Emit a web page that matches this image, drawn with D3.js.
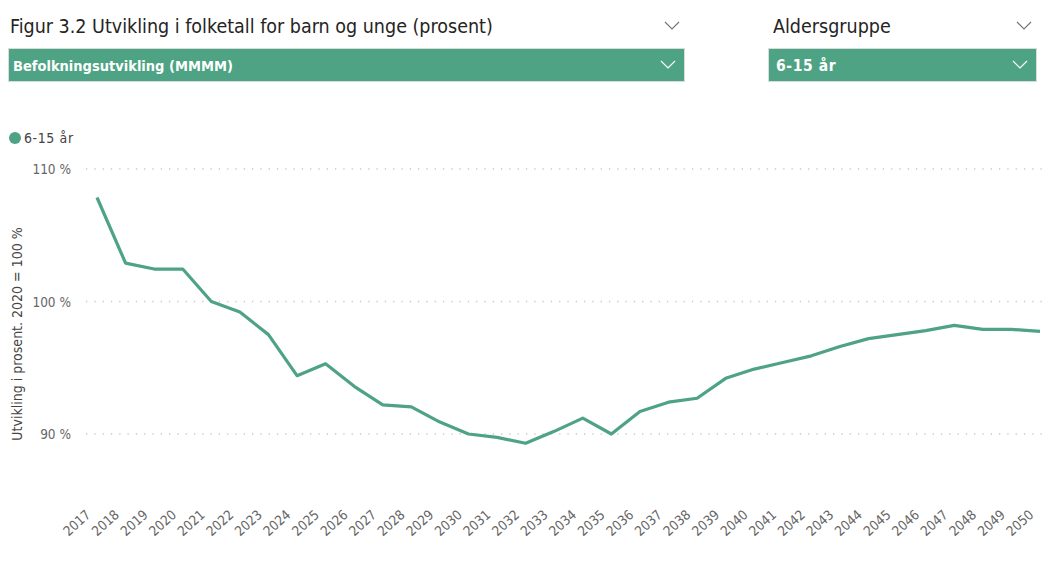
<!DOCTYPE html>
<html><head><meta charset="utf-8">
<script src="https://cdn.jsdelivr.net/npm/d3@7"></script>
<style>
body{margin:0;background:#fff;}
svg{display:block;font-family:"DejaVu Sans Condensed","DejaVu Sans",sans-serif;font-stretch:condensed;}
</style></head>
<body><svg id="c" width="1045" height="586"></svg>
<script>
const years = d3.range(2017, 2051).map(String);
const values = [107.85,102.9,102.45,102.45,100.0,99.2,97.5,94.4,95.3,93.6,92.2,92.05,90.9,90.0,89.75,89.3,90.2,91.2,90.0,91.7,92.4,92.7,94.2,94.9,95.4,95.9,96.6,97.2,97.5,97.8,98.2,97.9,97.9,97.75];
const yTicks = [90, 100, 110];
const seriesName = "6-15 år";
const titleText = "Figur 3.2 Utvikling i folketall for barn og unge (prosent)";
const slicer1 = "Befolkningsutvikling (MMMM)";
const slicer2Title = "Aldersgruppe";
const yTitle = "Utvikling i prosent. 2020 = 100 %";

const green = "#4da383";
const svg = d3.select("#c");

// header
svg.append("text").attr("x",10).attr("y",33).attr("font-size",19.5).attr("fill","#252423").text(titleText);
svg.append("text").attr("x",773).attr("y",33).attr("font-size",19.5).attr("fill","#252423").text(slicer2Title);
function chevron(cx, cy, col){
  svg.append("path").attr("d",`M${cx-7},${cy-4}L${cx},${cy+3}L${cx+7},${cy-4}`)
    .attr("fill","none").attr("stroke",col).attr("stroke-width",1.2);
}
chevron(672,26,"#777");
chevron(1024,26,"#777");
svg.append("rect").attr("x",8.5).attr("y",48.5).attr("width",676).attr("height",33).attr("fill",green).attr("stroke","#d8dcdc");
svg.append("rect").attr("x",768.5).attr("y",48.5).attr("width",268).attr("height",33).attr("fill",green).attr("stroke","#d8dcdc");
svg.append("text").attr("x",13).attr("y",71).attr("font-size",14.5).attr("font-weight","bold").attr("fill","#fff").text(slicer1);
svg.append("text").attr("x",776).attr("y",71).attr("font-size",15.5).attr("font-weight","bold").attr("letter-spacing",0.6).attr("fill","#fff").text("6-15 år");
chevron(668,65,"#fff");
chevron(1020,65,"#fff");

// legend
svg.append("circle").attr("cx",15).attr("cy",138).attr("r",6).attr("fill",green);
svg.append("text").attr("x",24).attr("y",143).attr("font-size",14).attr("letter-spacing",0.6).attr("fill","#444").text(seriesName);

// scales
const x = d3.scalePoint().domain(years).range([97,1040]);
const y = d3.scaleLinear().domain([90,110]).range([434,169]);

// grid
svg.append("g").selectAll("line").data(yTicks).join("line")
  .attr("x1",86).attr("x2",1045).attr("y1",d=>y(d)).attr("y2",d=>y(d))
  .attr("stroke","#c8c8c8").attr("stroke-width",1.3).attr("stroke-dasharray","1.3,7");

// y axis labels
const yAxis = d3.axisLeft(y).tickValues(yTicks).tickSize(0).tickPadding(0).tickFormat(d=>d+" %");
const gy = svg.append("g").attr("transform","translate(71,0)").call(yAxis);
gy.select(".domain").remove();
gy.selectAll("text").attr("font-size",13.5).attr("fill","#666").attr("font-family","DejaVu Sans Condensed, DejaVu Sans, sans-serif").attr("dy","0.35em");

svg.append("text").attr("transform","translate(22,334) rotate(-90)").attr("text-anchor","middle")
  .attr("font-size",14).attr("fill","#444").text(yTitle);

// x axis
const xAxis = d3.axisBottom(x).tickSize(0).tickPadding(0);
const gx = svg.append("g").attr("transform","translate(0,505)").call(xAxis);
gx.select(".domain").remove();
gx.selectAll("text").attr("font-size",13.5).attr("fill","#666").attr("font-family","DejaVu Sans Condensed, DejaVu Sans, sans-serif")
  .attr("text-anchor","end").attr("dy","0").attr("y",0)
  .attr("transform","translate(-6,11) rotate(-42)");

// line
svg.append("path").datum(values)
  .attr("d", d3.line().x((d,i)=>x(years[i])).y(d=>y(d)))
  .attr("fill","none").attr("stroke",green).attr("stroke-width",3.2).attr("stroke-linejoin","round");
</script></body></html>
